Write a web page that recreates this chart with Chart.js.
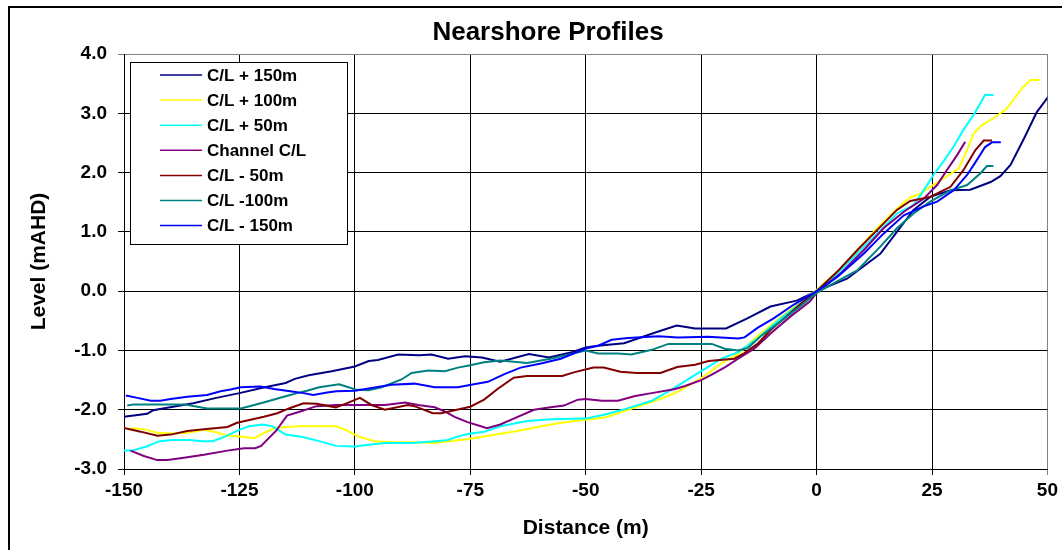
<!DOCTYPE html>
<html>
<head>
<meta charset="utf-8">
<title>Nearshore Profiles</title>
<script src="https://cdn.jsdelivr.net/npm/chart.js@4.4.1/dist/chart.umd.min.js"></script>
<style>
  body { margin: 0; background: #fff; }
  #wrap { width: 1062px; height: 550px; }
</style>
</head>
<body>
<div id="wrap"><canvas id="profileChart" width="1062" height="550"></canvas></div>
<script>
// distance (m), level (mAHD)
const clPlus150 = [[-150,-2.12],[-145,-2.07],[-143.7,-2.01],[-140,-1.96],[-135,-1.89],[-130,-1.80],[-125,-1.72],[-120,-1.63],[-115,-1.55],[-113,-1.48],[-110,-1.42],[-105,-1.35],[-100,-1.27],[-97,-1.18],[-95,-1.16],[-90.6,-1.07],[-86,-1.08],[-83.4,-1.07],[-79.8,-1.14],[-76.1,-1.10],[-72.5,-1.12],[-68.5,-1.19],[-62.3,-1.06],[-58,-1.12],[-53,-1.03],[-50,-0.95],[-47.4,-0.92],[-41.7,-0.88],[-34.6,-0.69],[-30.3,-0.58],[-26.3,-0.63],[-19.6,-0.63],[-15,-0.46],[-10,-0.26],[-4.3,-0.16],[0,0],[6.6,0.21],[13.8,0.63],[17.4,1.0],[21,1.37],[24.6,1.59],[29,1.70],[33.3,1.71],[37.7,1.84],[39.8,1.94],[42,2.13],[44.9,2.57],[47.7,3.02],[50.2,3.28]];
const clPlus100 = [[-148.5,-2.31],[-145,-2.34],[-142.8,-2.39],[-140,-2.40],[-136.3,-2.39],[-132.7,-2.34],[-130.5,-2.37],[-127.6,-2.44],[-124.7,-2.45],[-121.8,-2.48],[-119.6,-2.39],[-117.4,-2.31],[-112.5,-2.28],[-107.7,-2.28],[-104.1,-2.28],[-102,-2.34],[-99.3,-2.45],[-95.7,-2.53],[-91.4,-2.55],[-87.7,-2.55],[-82.7,-2.56],[-79.8,-2.53],[-75.6,-2.50],[-71.2,-2.44],[-64.8,-2.36],[-57.6,-2.25],[-54.5,-2.21],[-50,-2.17],[-45.8,-2.13],[-41.5,-2.02],[-35.7,-1.87],[-30.6,-1.72],[-25,-1.47],[-20.6,-1.22],[-17,-1.06],[-12.8,-0.76],[-7.8,-0.44],[-4.3,-0.23],[0,0.02],[4.5,0.33],[8.8,0.69],[13.1,1.06],[17.4,1.39],[20.3,1.58],[22.5,1.65],[24.6,1.76],[27.5,1.90],[30.8,2.07],[32.6,2.38],[34,2.66],[35.8,2.80],[38.4,2.92],[41.2,3.08],[44.5,3.42],[46.3,3.56],[48.4,3.56]];
const clPlus50 = [[-150,-2.69],[-148.3,-2.69],[-145.1,-2.62],[-142.3,-2.53],[-139.4,-2.51],[-135.8,-2.51],[-133,-2.53],[-130.8,-2.53],[-128,-2.45],[-125.1,-2.34],[-122.9,-2.28],[-120,-2.25],[-117.9,-2.28],[-115,-2.42],[-111.3,-2.46],[-107.7,-2.53],[-104.1,-2.61],[-100,-2.62],[-97,-2.59],[-93.5,-2.56],[-87.7,-2.56],[-82.7,-2.53],[-79.8,-2.51],[-77.7,-2.45],[-75,-2.40],[-72,-2.37],[-68.5,-2.28],[-62.7,-2.19],[-57.6,-2.16],[-50,-2.15],[-45.8,-2.08],[-41.5,-1.99],[-35.7,-1.85],[-31.4,-1.66],[-25,-1.35],[-20.6,-1.14],[-17,-1.03],[-12.8,-0.80],[-7.8,-0.46],[0,0],[4.5,0.30],[8.8,0.63],[13.1,0.97],[17.4,1.31],[21,1.45],[23.2,1.70],[25.3,1.96],[27.5,2.19],[29.7,2.44],[31.8,2.72],[34,2.97],[36.5,3.31],[38.3,3.31]];
const channelCL = [[-148.6,-2.69],[-145.7,-2.78],[-142.8,-2.85],[-140.6,-2.85],[-137,-2.81],[-132.7,-2.76],[-127.6,-2.69],[-124,-2.65],[-121.6,-2.65],[-120.3,-2.61],[-117,-2.35],[-114.7,-2.10],[-111.8,-2.03],[-108.3,-1.94],[-104.1,-1.92],[-100,-1.92],[-93.5,-1.92],[-89.1,-1.88],[-86.3,-1.92],[-82.7,-1.96],[-80.5,-2.03],[-78.4,-2.12],[-75.6,-2.21],[-72.7,-2.28],[-71.4,-2.31],[-68.5,-2.25],[-65.6,-2.15],[-61.2,-2.0],[-57.6,-1.96],[-54.7,-1.93],[-51.7,-1.83],[-50,-1.82],[-46.5,-1.85],[-43,-1.85],[-39.3,-1.77],[-35.7,-1.72],[-30.6,-1.65],[-28.5,-1.60],[-25,-1.50],[-22.7,-1.41],[-19.8,-1.28],[-17,-1.14],[-13.5,-0.97],[-9.9,-0.71],[-5.7,-0.43],[-1.4,-0.17],[0,-0.03],[5.2,0.30],[10.2,0.69],[14.5,1.06],[18.9,1.34],[23.2,1.56],[26.1,1.79],[28.2,2.04],[30.4,2.29],[32.2,2.52]];
const clMinus50 = [[-150,-2.31],[-146.4,-2.37],[-142.8,-2.44],[-139.9,-2.42],[-136.3,-2.36],[-132.7,-2.33],[-129.8,-2.31],[-127.6,-2.29],[-125.5,-2.22],[-122.6,-2.17],[-119.7,-2.12],[-116.8,-2.06],[-114,-1.97],[-111.1,-1.89],[-108.3,-1.90],[-104.1,-1.96],[-101.4,-1.88],[-98.9,-1.80],[-96.4,-1.92],[-93.5,-2.0],[-88.5,-1.92],[-87.1,-1.94],[-83.1,-2.06],[-81.3,-2.06],[-78.4,-2.01],[-75,-1.95],[-72,-1.83],[-69.1,-1.65],[-65.6,-1.46],[-62.7,-1.43],[-55.1,-1.43],[-52.6,-1.37],[-48.3,-1.29],[-46.1,-1.29],[-42.5,-1.36],[-38.9,-1.38],[-33.8,-1.38],[-30.2,-1.28],[-26.3,-1.24],[-23.4,-1.18],[-19.1,-1.15],[-17.8,-1.14],[-15.7,-1.05],[-12.8,-0.89],[-10,-0.66],[-5.7,-0.37],[-2.8,-0.17],[0,0],[4.5,0.33],[8.8,0.69],[13.1,1.03],[17.4,1.37],[20.3,1.52],[24.6,1.59],[29,1.76],[31.8,2.04],[34.4,2.38],[36.2,2.54],[38,2.54]];
const clMinus100 = [[-149.3,-1.93],[-147.8,-1.91],[-144.2,-1.91],[-137,-1.91],[-134.1,-1.95],[-132,-1.98],[-127.6,-1.98],[-124.7,-1.98],[-121.8,-1.92],[-119,-1.86],[-115.4,-1.78],[-112.5,-1.72],[-110.4,-1.68],[-107.7,-1.62],[-103.4,-1.57],[-101.4,-1.62],[-100,-1.66],[-97,-1.67],[-94.2,-1.62],[-89.9,-1.49],[-87.7,-1.38],[-84.1,-1.34],[-80.5,-1.35],[-77.7,-1.29],[-75,-1.25],[-72,-1.20],[-68.5,-1.17],[-62.7,-1.21],[-57.6,-1.14],[-52.6,-1.05],[-50,-1.0],[-47.3,-1.05],[-43,-1.05],[-40.1,-1.07],[-35.7,-0.99],[-32.1,-0.89],[-25,-0.89],[-22.7,-0.89],[-19.9,-0.97],[-17,-1.0],[-14.9,-0.96],[-12.1,-0.76],[-7.8,-0.51],[-3.6,-0.26],[0,-0.03],[5.2,0.20],[8.8,0.35],[13.8,0.75],[17.4,1.06],[21,1.31],[24.6,1.51],[29,1.70],[32.6,1.79],[35.5,1.99],[36.9,2.11],[38.3,2.11]];
const clMinus150 = [[-149.6,-1.76],[-147.1,-1.80],[-144.2,-1.85],[-142.1,-1.85],[-139.9,-1.82],[-136.3,-1.78],[-132,-1.75],[-129.1,-1.69],[-126.9,-1.66],[-124.7,-1.62],[-120.4,-1.61],[-117.5,-1.65],[-114,-1.69],[-111.1,-1.72],[-109,-1.75],[-106,-1.71],[-104,-1.69],[-100,-1.68],[-96,-1.63],[-92.1,-1.58],[-87.1,-1.56],[-82.7,-1.62],[-77.7,-1.62],[-74.8,-1.58],[-71.2,-1.53],[-67.6,-1.40],[-64.1,-1.29],[-59.7,-1.22],[-55.4,-1.14],[-50,-0.97],[-47.3,-0.92],[-44.4,-0.82],[-40.8,-0.79],[-34.3,-0.76],[-30,-0.78],[-23.5,-0.77],[-17,-0.80],[-15.6,-0.78],[-12.8,-0.62],[-9.3,-0.46],[-5,-0.23],[0,0],[4.5,0.24],[10.2,0.63],[14.5,0.97],[18.9,1.28],[23.2,1.43],[26.1,1.51],[29.7,1.70],[32.6,1.96],[34.7,2.21],[36.5,2.43],[38,2.51],[39.9,2.51]];

const seriesNames = ["C/L + 150m", "C/L + 100m", "C/L + 50m", "Channel C/L", "C/L - 50m", "C/L -100m", "C/L - 150m"];
const seriesData = [clPlus150, clPlus100, clPlus50, channelCL, clMinus50, clMinus100, clMinus150];
const seriesColors = ["#000080", "#ffff00", "#00ffff", "#800080", "#800000", "#008080", "#0000ff"];

const xTicks = [-150, -125, -100, -75, -50, -25, 0, 25, 50];
const yTicks = [-3, -2, -1, 0, 1, 2, 3, 4];

const FONT = "'Liberation Sans', Arial, sans-serif";
Chart.defaults.font.family = FONT;
Chart.defaults.color = "#000";

// title, outer frame and boxed legend drawn onto the canvas
const extras = {
  id: "extras",
  afterDatasetsDraw(chart) {
    const ctx = chart.ctx;
    ctx.save();
    // outer frame
    ctx.strokeStyle = "#000";
    ctx.lineWidth = 2;
    ctx.beginPath();
    ctx.moveTo(9, 552);
    ctx.lineTo(9, 7);
    ctx.lineTo(1064, 7);
    ctx.stroke();

    // chart title
    ctx.fillStyle = "#000";
    ctx.font = "bold 26px " + FONT;
    ctx.textAlign = "center";
    ctx.textBaseline = "middle";
    ctx.fillText("Nearshore Profiles", 548, 33);

    // legend
    const lx = 130, ly = 62, lw = 217, lh = 182;
    ctx.fillStyle = "#fff";
    ctx.fillRect(lx, ly, lw, lh);
    ctx.strokeStyle = "#000";
    ctx.lineWidth = 1;
    ctx.strokeRect(lx + 0.5, ly + 0.5, lw, lh);
    ctx.font = "bold 17px " + FONT;
    ctx.textAlign = "left";
    chart.data.datasets.forEach((ds, i) => {
      const ry = ly + 13 + i * 25.1;
      ctx.strokeStyle = ds.borderColor;
      ctx.lineWidth = 1.5;
      ctx.beginPath();
      ctx.moveTo(160, ry);
      ctx.lineTo(202, ry);
      ctx.stroke();
      ctx.fillStyle = "#000";
      ctx.fillText(ds.label, 207, ry + 1);
    });
    ctx.restore();
  }
};

new Chart(document.getElementById("profileChart"), {
  type: "scatter",
  data: {
    datasets: seriesData.map((pts, i) => ({
      label: seriesNames[i],
      data: pts.map(p => ({ x: p[0], y: p[1] })),
      borderColor: seriesColors[i],
      backgroundColor: seriesColors[i],
      borderWidth: 2,
      showLine: true,
      pointRadius: 0,
      tension: 0,
      order: seriesData.length - i,
    })),
  },
  options: {
    responsive: false,
    animation: false,
    devicePixelRatio: 1,
    layout: { padding: { top: 54, left: 20, right: 12, bottom: 4 } },
    plugins: {
      legend: { display: false },
      title: { display: false },
      tooltip: { enabled: false },
    },
    scales: {
      x: {
        type: "linear",
        min: -150,
        max: 50,
        afterBuildTicks: s => { s.ticks = xTicks.map(v => ({ value: v })); },
        afterFit: s => { s.height = 77; },
        ticks: { font: { size: 19, weight: "bold" }, padding: 4, maxRotation: 0, autoSkip: false },
        grid: {
          color: c => (c.tick && c.tick.value === 50 ? "#808080" : "#000"),
          tickLength: 6,
        },
        border: { color: "#000" },
        title: {
          display: true,
          text: "Distance (m)",
          font: { size: 21, weight: "bold" },
          padding: { top: 0, bottom: 5 },
        },
      },
      y: {
        min: -3,
        max: 4,
        afterBuildTicks: s => { s.ticks = yTicks.map(v => ({ value: v })); },
        afterFit: s => { s.width = 104; },
        ticks: { font: { size: 19, weight: "bold" }, padding: 11, callback: v => v.toFixed(1) },
        grid: {
          color: c => (c.tick && c.tick.value === 4 ? "#808080" : "#000"),
          tickLength: 6,
        },
        border: { color: "#000" },
        title: {
          display: true,
          text: "Level (mAHD)",
          font: { size: 21, weight: "bold" },
          padding: { top: 7, bottom: 0 },
        },
      },
    },
  },
  plugins: [extras],
});
</script>
</body>
</html>
